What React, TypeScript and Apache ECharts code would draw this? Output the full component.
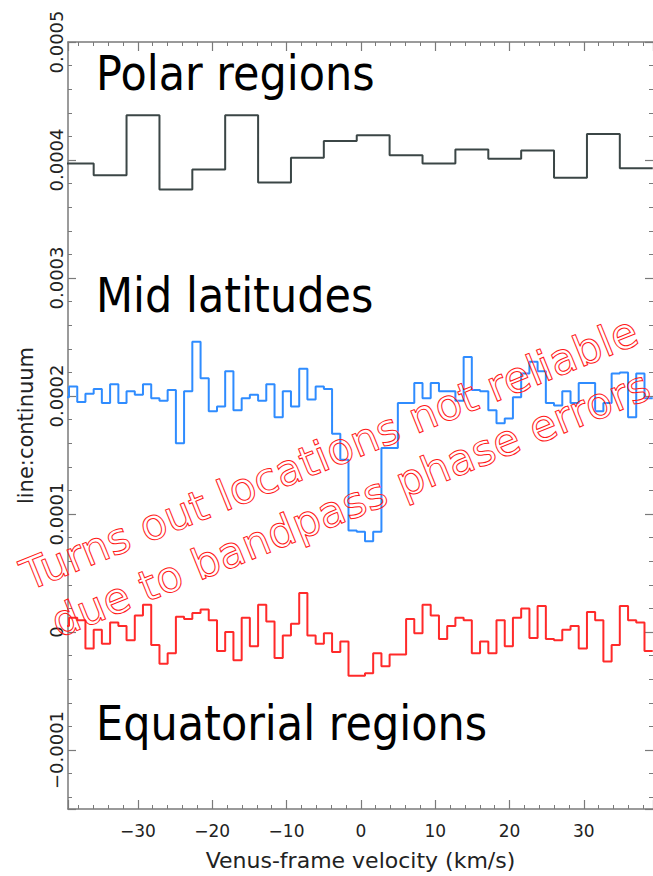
import React, { useEffect, useRef } from "react";
import * as echarts from "echarts";

// Fine channels (km/s) shared by the mid-latitude and equatorial spectra
const channelVelocity = [
  -39.82, -38.71, -37.6, -36.5, -35.39, -34.29, -33.18, -32.07, -30.97, -29.86,
  -28.76, -27.65, -26.54, -25.44, -24.33, -23.23, -22.12, -21.01, -19.91, -18.8,
  -17.7, -16.59, -15.48, -14.38, -13.27, -12.17, -11.06, -9.95, -8.85, -7.74,
  -6.64, -5.53, -4.42, -3.32, -2.21, -1.11, 0.0, 1.11, 2.21, 3.32,
  4.42, 5.53, 6.64, 7.74, 8.85, 9.95, 11.06, 12.17, 13.27, 14.38,
  15.48, 16.59, 17.7, 18.8, 19.91, 21.01, 22.12, 23.23, 24.33, 25.44,
  26.54, 27.65, 28.76, 29.86, 30.97, 32.07, 33.18, 34.29, 35.39, 36.5,
  37.6, 38.71,
];

// line:continuum in units of 1e-4
const midLatitudes = [
  1.99, 2.08, 1.95, 2.02, 2.06, 1.94, 2.1, 1.94, 2.04, 2.01,
  2.1, 1.98, 1.96, 2.05, 1.6, 2.04, 2.46, 2.15, 1.87, 1.91,
  2.21, 1.88, 1.98, 2.01, 1.96, 2.1, 1.82, 2.04, 1.91, 2.23,
  1.97, 2.08, 2.06, 1.68, 1.46, 0.86, 0.85, 0.77, 0.85, 1.56,
  1.56, 1.94, 1.94, 2.11, 1.98, 2.11, 2.04, 2.04, 1.96, 2.33,
  2.05, 2.04, 1.88, 1.77, 1.81, 1.99, 2.19, 2.29, 2.21, 1.94,
  1.92, 2.04, 1.94, 2.11, 2.11, 1.87, 1.94, 2.19, 2.2, 1.82,
  2.19, 1.98,
];

const equatorialRegions = [
  0.05, 0.12, 0.1, -0.14, 0.02, -0.1, 0.08, 0.05, -0.07, 0.14,
  0.23, -0.11, -0.27, -0.18, 0.13, 0.11, 0.16, 0.19, 0.1, -0.16,
  0.0, -0.24, 0.12, -0.12, 0.23, 0.09, -0.22, -0.03, 0.07, 0.33,
  -0.03, -0.1, -0.01, -0.17, -0.08, -0.37, -0.37, -0.35, -0.18, -0.29,
  -0.19, -0.19, 0.11, -0.01, 0.23, 0.14, -0.06, 0.05, 0.12, 0.1,
  -0.18, -0.08, -0.18, 0.1, -0.12, 0.12, 0.2, -0.05, 0.22, -0.06,
  -0.07, 0.02, 0.05, -0.14, 0.17, 0.1, -0.25, -0.11, 0.22, 0.1,
  0.08, -0.16,
];

// Coarse channels (km/s) for the polar spectrum
const polarVelocity = [
  -38.16, -33.73, -29.31, -24.88, -20.46, -16.04, -11.61, -7.19, -2.77,
  1.66, 6.08, 10.51, 14.93, 19.36, 23.78, 28.2, 32.63, 37.05,
];
const polarRegions = [
  3.97, 3.87, 4.38, 3.75, 3.92, 4.38, 3.81, 4.02, 4.16,
  4.21, 4.04, 3.97, 4.09, 4.01, 4.08, 3.85, 4.22, 3.93,
];

const UNIT = 1e-4;
const regionLabels = ["Polar regions", "Mid latitudes", "Equatorial regions"];
const noteLines = ["Turns out locations not reliable", "due to bandpass phase errors"];
const xAxisTitle = "Venus-frame velocity (km/s)";
const yAxisTitle = "line:continuum";

const FONT = "DejaVu Sans";

function stepData(centers: number[], values: number[]) {
  const w = centers[1] - centers[0];
  const pts: number[][] = centers.map((c, i) => [c - w / 2, values[i] * UNIT]);
  const last = centers.length - 1;
  pts.push([centers[last] + w / 2, values[last] * UNIT]);
  return pts;
}

const fmtX = (v: number) => {
  const r = Math.round(v);
  return r < 0 ? "\u2212" + Math.abs(r) : String(r);
};
const fmtY = (v: number) => {
  if (Math.abs(v) < 1e-12) return "0";
  const s = Math.abs(v).toFixed(4);
  return v < 0 ? "\u2212" + s : s;
};

export default function App() {
  const ref = useRef<HTMLDivElement>(null);
  useEffect(() => {
    if (!ref.current) return;
    const chart = echarts.init(ref.current, undefined, { renderer: "svg" });
    const axisColor = "#7a7a7a";
    const textColor = "#222";
    const xCommon = {
      type: "value",
      min: -39.4,
      max: 39.3,
      splitNumber: 8,
      splitLine: { show: false },
      axisLine: { show: true, onZero: false, lineStyle: { color: axisColor, width: 1.5 } },
      axisTick: { show: true, inside: true, length: 9, lineStyle: { color: axisColor, width: 1.2 } },
      minorTick: { show: true, splitNumber: 5, length: 4, lineStyle: { color: axisColor, width: 1 } },
    };
    const yCommon = {
      type: "value",
      min: -0.00015,
      max: 0.0005,
      splitLine: { show: false },
      axisLine: { show: true, onZero: false, lineStyle: { color: axisColor, width: 1.5 } },
      axisTick: { show: true, inside: true, length: 8, lineStyle: { color: axisColor, width: 1.2 } },
      minorTick: { show: true, splitNumber: 5, length: 4, lineStyle: { color: axisColor, width: 1 } },
    };
    const rot = (22 * Math.PI) / 180;
    const bigText = (text: string, x: number, y: number) => ({
      type: "text",
      x,
      y,
      scaleY: 1.12,
      z: 100,
      style: {
        text,
        fontSize: 43,
        fontFamily: FONT,
        fill: "#000",
        align: "left",
        verticalAlign: "middle",
        textAlign: "left",
        textVerticalAlign: "middle",
      },
    });
    const noteText = (text: string, x: number, y: number) => ({
      type: "text",
      x,
      y,
      rotation: rot,
      z: 110,
      style: {
        text,
        fontSize: 43,
        fontFamily: FONT,
        fill: "rgba(255,255,255,0)",
        stroke: "#ff1a1a",
        lineWidth: 1,
        align: "left",
        verticalAlign: "middle",
        textAlign: "left",
        textVerticalAlign: "middle",
      },
    });
    chart.setOption({
      animation: false,
      backgroundColor: "#fff",
      grid: { left: 68, right: 0, top: 42, bottom: 67, containLabel: false },
      xAxis: [
        {
          ...xCommon,
          position: "bottom",
          name: xAxisTitle,
          nameLocation: "middle",
          nameGap: 40,
          nameTextStyle: { fontSize: 22, color: textColor, fontFamily: FONT },
          axisLabel: {
            fontSize: 17,
            color: textColor,
            fontFamily: FONT,
            margin: 13,
            showMinLabel: false,
            showMaxLabel: false,
            formatter: fmtX,
          },
        },
        { ...xCommon, position: "top", axisLabel: { show: false } },
      ],
      yAxis: [
        {
          ...yCommon,
          position: "left",
          name: yAxisTitle,
          nameLocation: "middle",
          nameGap: 32,
          nameTextStyle: { fontSize: 21, color: textColor, fontFamily: FONT },
          axisLabel: {
            rotate: 90,
            fontSize: 18,
            color: textColor,
            fontFamily: FONT,
            margin: 3,
            showMinLabel: false,
            showMaxLabel: true,
            formatter: fmtY,
          },
        },
        {
          ...yCommon,
          position: "right",
          axisLine: { show: false, onZero: false },
          axisLabel: { show: false },
        },
      ],
      series: [
        {
          name: regionLabels[0],
          type: "line",
          step: "end",
          symbol: "none",
          xAxisIndex: 0,
          yAxisIndex: 0,
          data: stepData(polarVelocity, polarRegions),
          lineStyle: { color: "#3b4646", width: 2 },
        },
        {
          name: regionLabels[1],
          type: "line",
          step: "end",
          symbol: "none",
          xAxisIndex: 0,
          yAxisIndex: 0,
          data: stepData(channelVelocity, midLatitudes),
          lineStyle: { color: "#2f8cff", width: 2 },
        },
        {
          name: regionLabels[2],
          type: "line",
          step: "end",
          symbol: "none",
          xAxisIndex: 0,
          yAxisIndex: 0,
          data: stepData(channelVelocity, equatorialRegions),
          lineStyle: { color: "#ff2a2a", width: 2 },
        },
      ],
      graphic: [
        bigText(regionLabels[0], 96, 74),
        bigText(regionLabels[1], 96, 296),
        bigText(regionLabels[2], 96, 724),
        noteText(noteLines[0], 23, 577),
        noteText(noteLines[1], 53, 624),
      ],
    });
    return () => chart.dispose();
  }, []);
  return (
    <div
      ref={ref}
      style={{ position: "fixed", left: 0, top: 0, width: 653, height: 876, background: "#fff" }}
    />
  );
}
